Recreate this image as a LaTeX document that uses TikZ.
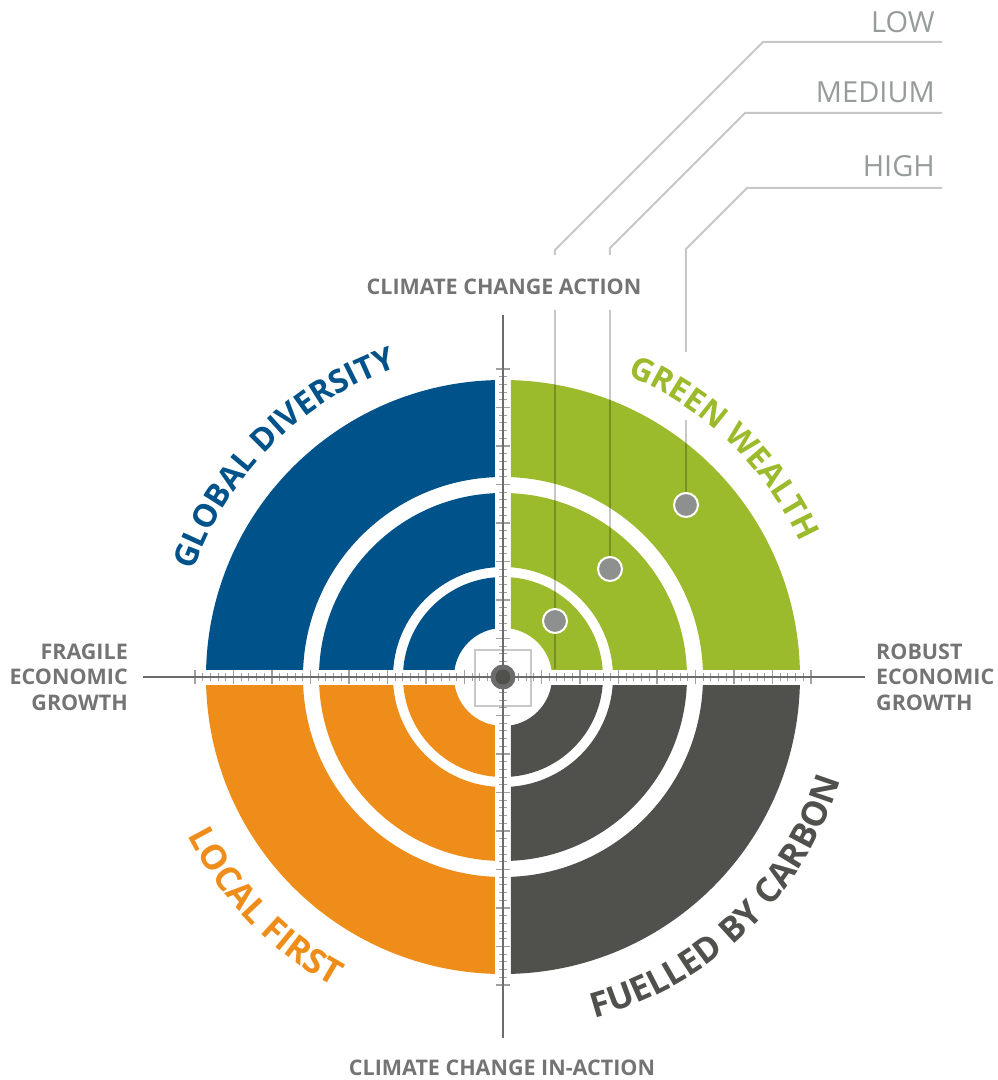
\documentclass[tikz,border=0pt]{standalone}
\usepackage{fontspec}
\setmainfont{Open Sans}
\usetikzlibrary{decorations.text}

\definecolor{gwblue}{RGB}{0,82,138}
\definecolor{gwgreen}{RGB}{156,187,44}
\definecolor{gworange}{RGB}{239,141,26}
\definecolor{gwdark}{RGB}{80,80,76}
\definecolor{axisgray}{RGB}{108,108,108}
\definecolor{tickgray}{RGB}{160,160,160}
\definecolor{labgray}{RGB}{116,116,116}
\definecolor{levgray}{RGB}{150,156,152}
\definecolor{dotgray}{RGB}{142,144,143}
\definecolor{sqgray}{RGB}{200,200,200}

\newcommand\qlab{\bfseries\fontsize{32}{32}\selectfont}
\newcommand\qlabl{\bfseries\fontsize{34.5}{34.5}\selectfont}
\newcommand\axlab{\bfseries\fontsize{21.5}{25.5}\selectfont}
\newcommand\levlab{\fontsize{29}{29}\selectfont}

\begin{document}
\begin{tikzpicture}[x=1pt,y=1pt,
  axisline/.style={axisgray, line width=2.5},
  tickmark/.style={tickgray, line width=1.1},
  leader/.style={draw=black, draw opacity=0.22, line width=2},
  leveldot/.style={circle, fill=dotgray, draw=white, line width=2, minimum size=24, inner sep=0},
  axislabel/.style={labgray, font=\axlab, inner sep=0},
  levellabel/.style={levgray, font=\levlab, inner sep=0, anchor=east, text height=21, text depth=0},
  arclabel/.style={decorate, decoration={text along path, text align=center, text format delimiters={|}{|}}}
]
\useasboundingbox (-503,-403) rectangle (495,677);

% quadrant rings, separated by a cross-shaped gap
\foreach \sx/\sy/\col in {1/1/gwgreen, -1/1/gwblue, -1/-1/gworange, 1/-1/gwdark}{
  \begin{scope}
    \clip (\sx*8,\sy*8) rectangle (\sx*330,\sy*330);
    \fill[\col, even odd rule] (0,0) circle (297) (0,0) circle (200)
      (0,0) circle (184) (0,0) circle (110)
      (0,0) circle (100) (0,0) circle (49);
  \end{scope}
}

% centre square
\draw[sqgray, line width=1.5] (-28,-29) rectangle (28,27);

% scale ticks along both axes
\foreach \i in {1,...,40}{
  \pgfmathsetmacro{\tkpos}{\i*7.7}
  \pgfmathsetmacro{\tklen}{ifthenelse(mod(\i,5)==0,7,4)}
  \draw[tickmark] (\tkpos,-\tklen) -- (\tkpos,\tklen);
  \draw[tickmark] (-\tkpos,-\tklen) -- (-\tkpos,\tklen);
  \draw[tickmark] (-\tklen,\tkpos) -- (\tklen,\tkpos);
  \draw[tickmark] (-\tklen,-\tkpos) -- (\tklen,-\tkpos);
}

% axes
\coordinate (axN) at (0,362);
\coordinate (axS) at (0,-361);
\coordinate (axW) at (-360,0);
\coordinate (axE) at (362,0);
\draw[axisline] (axN) -- (axS);
\draw[axisline] (axW) -- (axE);

% level markers
\node[leveldot] (dlow) at (52,56) {};
\node[leveldot] (dmed) at (107,108) {};
\node[leveldot] (dhigh) at (183,172) {};

% leader lines from the level scale down to the markers
\coordinate (lowA) at (439,635);
\coordinate (lowB) at (260,635);
\coordinate (lowC) at (52,427);
\coordinate (lowD) at (52,422);
\coordinate (lowE) at (52,367);
\coordinate (lowF) at (52,8);
\coordinate (medA) at (439,564);
\coordinate (medB) at (242,564);
\coordinate (medC) at (107,429);
\coordinate (medD) at (107,422);
\coordinate (medE) at (107,367);
\coordinate (highA) at (439,489);
\coordinate (highB) at (244,489);
\coordinate (highC) at (183,428);
\coordinate (highD) at (183,325);
\coordinate (highE) at (183,257);
\draw[leader] (lowA) -- (lowB) -- (lowC) -- (lowD);
\draw[leader] (lowE) -- (dlow.north);
\draw[leader] (dlow.south) -- (lowF);
\draw[leader] (medA) -- (medB) -- (medC) -- (medD);
\draw[leader] (medE) -- (dmed.north);
\draw[leader] (highA) -- (highB) -- (highC) -- (highD);
\draw[leader] (highE) -- (dhigh.north);

% centre target
\node[circle, fill=axisgray, minimum size=25, inner sep=0] (ctr) at (0,0) {};
\node[circle, fill=gwdark, minimum size=15, inner sep=0] (ctrin) at (ctr) {};

% level labels
\node[levellabel] (tlow) at (432,655) {LOW};
\node[levellabel] (tmed) at (432,585) {MEDIUM};
\node[levellabel] (thigh) at (432,511) {HIGH};

% axis labels
\node[axislabel] (lnorth) at (1,390) {CLIMATE CHANGE ACTION};
\node[axislabel] (lsouth) at (-1,-391) {CLIMATE CHANGE IN-ACTION};
\node[axislabel, align=right, anchor=east] (lwest) at (-375,0) {FRAGILE\\ECONOMIC\\GROWTH};
\node[axislabel, align=left, anchor=west] (least) at (373,0) {ROBUST\\ECONOMIC\\GROWTH};

% quadrant titles along the rings
\path[arclabel, decoration={text={|\qlab|GLOBAL DIVERSITY}, text color=gwblue}]
  (175:327) arc[start angle=175, end angle=95, radius=327];
\path[arclabel, decoration={text={|\qlab|GREEN WEALTH}, text color=gwgreen}]
  (86:326) arc[start angle=86, end angle=6, radius=326];
\path[arclabel, decoration={text={|\qlabl|LOCAL FIRST}, text color=gworange}]
  (184:353) arc[start angle=184, end angle=264, radius=353];
\path[arclabel, decoration={text={|\qlabl|FUELLED BY CARBON}, text color=gwdark}]
  (274:353) arc[start angle=274, end angle=354, radius=353];
\end{tikzpicture}
\end{document}
